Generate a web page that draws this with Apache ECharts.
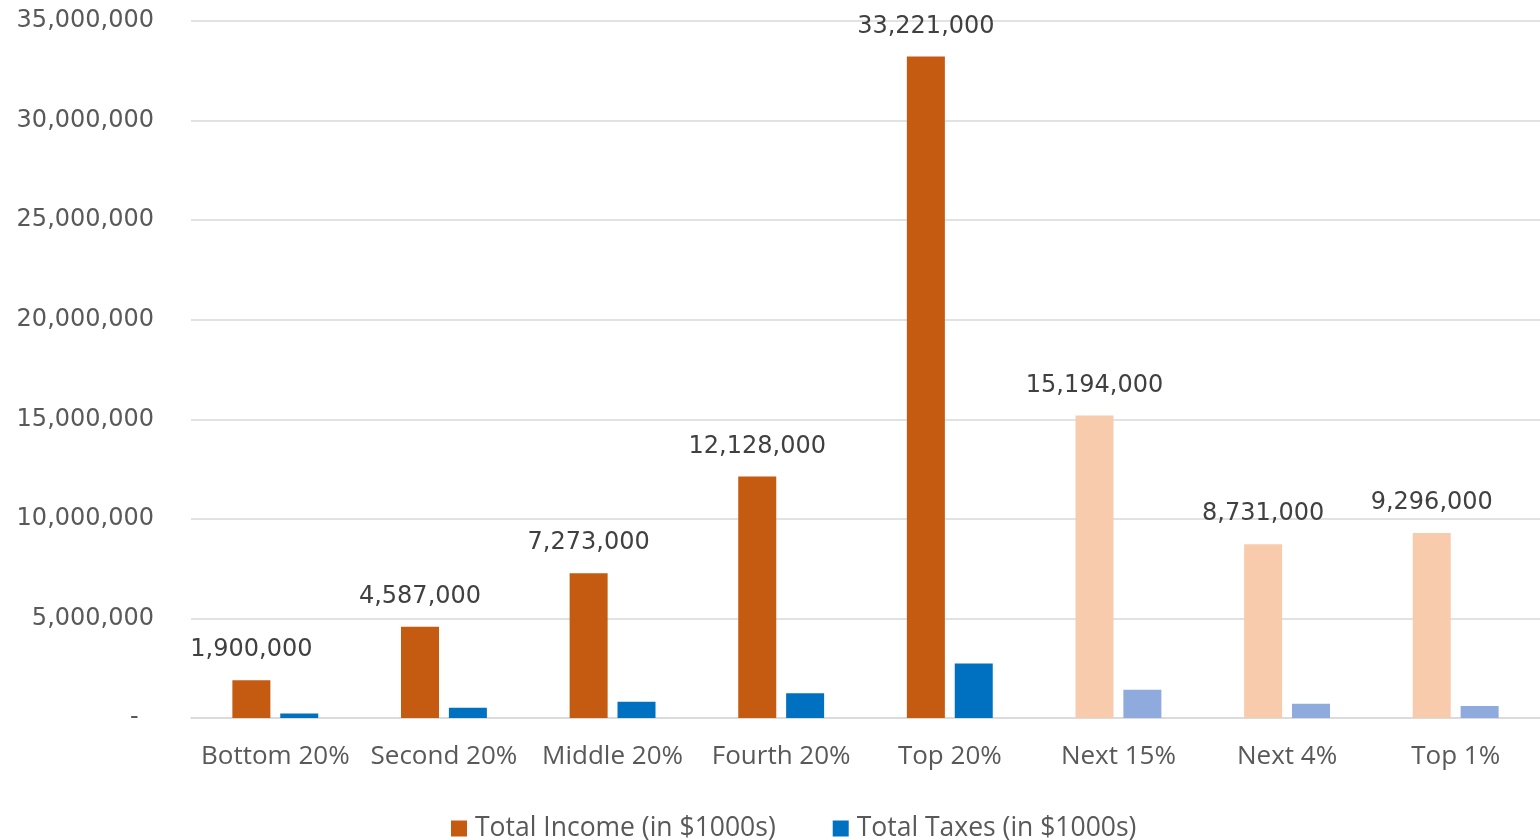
<!DOCTYPE html>
<html>
<head>
<meta charset="utf-8">
<script src="https://cdn.jsdelivr.net/npm/echarts@6/dist/echarts.min.js"></script>
<style>
  html, body { margin: 0; padding: 0; background: #ffffff; }
  #chart { width: 1540px; height: 840px; }
</style>
</head>
<body>
<div id="chart"></div>
<script>
// Income groups along the x axis
const categories = ['Bottom 20%', 'Second 20%', 'Middle 20%', 'Fourth 20%', 'Top 20%', 'Next 15%', 'Next 4%', 'Top 1%'];
// Total income per group (in $1000s)
const incomeValues = [1900000, 4587000, 7273000, 12128000, 33221000, 15194000, 8731000, 9296000];
// Total taxes per group (in $1000s)
const taxValues = [230000, 520000, 820000, 1240000, 2740000, 1420000, 720000, 600000];
// Groups that break down the top 20% are drawn in lighter tones
const breakdownGroups = ['Next 15%', 'Next 4%', 'Top 1%'];
const yTicks = { min: 0, max: 35000000, interval: 5000000 };

const INCOME = '#C55A11', INCOME_LIGHT = '#F8CBAD';
const TAX = '#0070C0', TAX_LIGHT = '#8FAADC';

// Accounting-style numbers: zero shows as a dash set in from the right
const fmt = v => v === 0 ? '-  ' : v.toLocaleString('en-US');

function colored(values, dark, light) {
  return values.map((v, i) => ({
    value: v,
    itemStyle: { color: breakdownGroups.includes(categories[i]) ? light : dark }
  }));
}

const chart = echarts.init(document.getElementById('chart'), null, { renderer: 'canvas' });
chart.setOption({
  animation: false,
  backgroundColor: '#ffffff',
  textStyle: { fontFamily: 'DejaVu Sans' },
  grid: { left: 191, right: -6, top: 21, bottom: 122, containLabel: false },
  legend: {
    top: 810,
    left: 446,
    icon: 'rect',
    itemWidth: 16,
    itemHeight: 16,
    itemGap: 57,
    textStyle: { fontFamily: 'Open Sans', fontSize: 26.5, color: '#595959', padding: [0, 0, 0, 3] },
    data: ['Total Income (in $1000s)', 'Total Taxes (in $1000s)']
  },
  xAxis: {
    type: 'category',
    data: categories,
    axisLine: { lineStyle: { color: '#d9d9d9', width: 1.5 } },
    axisTick: { show: false },
    axisLabel: { fontFamily: 'Open Sans', fontSize: 26, color: '#595959', margin: 26, interval: 0 }
  },
  yAxis: {
    type: 'value',
    min: yTicks.min,
    max: yTicks.max,
    interval: yTicks.interval,
    axisLine: { show: false },
    axisTick: { show: false },
    splitLine: { lineStyle: { color: '#d9d9d9', width: 1.5 } },
    axisLabel: { fontFamily: 'DejaVu Sans', fontSize: 24, color: '#595959', margin: 37, formatter: fmt }
  },
  series: [
    {
      name: 'Total Income (in $1000s)',
      type: 'bar',
      barWidth: 38,
      barGap: '26%',
      itemStyle: { color: INCOME },
      data: colored(incomeValues, INCOME, INCOME_LIGHT),
      label: {
        show: true,
        position: 'top',
        distance: 18,
        fontFamily: 'DejaVu Sans',
        fontSize: 24,
        color: '#404040',
        formatter: p => fmt(p.value)
      }
    },
    {
      name: 'Total Taxes (in $1000s)',
      type: 'bar',
      barWidth: 38,
      barGap: '26%',
      itemStyle: { color: TAX },
      data: colored(taxValues, TAX, TAX_LIGHT)
    }
  ]
});
</script>
</body>
</html>
